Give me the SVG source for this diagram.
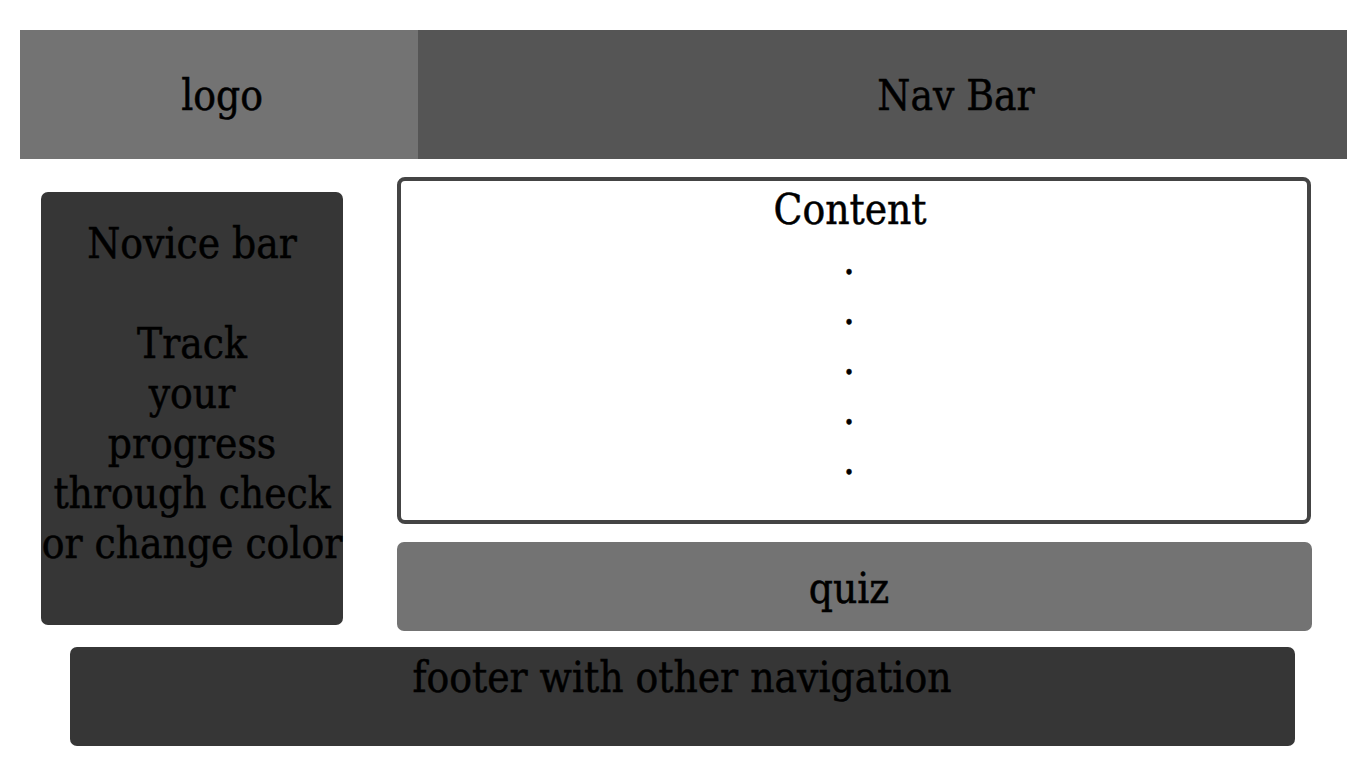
<svg xmlns="http://www.w3.org/2000/svg" width="1366" height="768" viewBox="0 0 1366 768">
<style>
text{font-family:"DejaVu Serif Condensed","DejaVu Serif","Liberation Serif",serif;font-stretch:condensed;font-size:42px;fill:#000;stroke:#000;stroke-width:0.5px;text-anchor:middle}
.dark{fill:#363636}
.mid{fill:#737373}
</style>
<rect width="1366" height="768" fill="#fff"/>
<g id="logo">
<rect x="20" y="30" width="398" height="129" class="mid"/>
<text x="222" y="110">logo</text>
</g>
<g id="navbar">
<rect x="418" y="30" width="929" height="129" fill="#555555"/>
<text x="956" y="110">Nav Bar</text>
</g>
<g id="novice">
<rect x="41" y="192" width="302" height="433" rx="7" class="dark"/>
<text x="192" y="258">Novice bar</text>
<text x="192" y="358">Track</text>
<text x="192" y="408">your</text>
<text x="192" y="458">progress</text>
<text x="192" y="508">through check</text>
<text x="192" y="558">or change color</text>
</g>
<g id="content">
<rect x="399" y="179" width="910" height="343" rx="6" fill="#fff" stroke="#444444" stroke-width="4"/>
<text x="850" y="224">Content</text>
<text x="849" y="274">.</text>
<text x="849" y="324">.</text>
<text x="849" y="374">.</text>
<text x="849" y="424">.</text>
<text x="849" y="474">.</text>
</g>
<g id="quiz">
<rect x="397" y="542" width="915" height="89" rx="7" class="mid"/>
<text x="849" y="603">quiz</text>
</g>
<g id="footer">
<rect x="70" y="647" width="1225" height="99" rx="7" class="dark"/>
<text x="682" y="692">footer with other navigation</text>
</g>
<g id="connectors"/>
</svg>
